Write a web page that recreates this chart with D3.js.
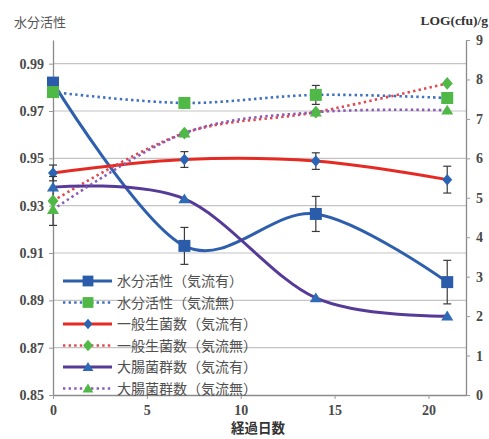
<!DOCTYPE html>
<html>
<head>
<meta charset="utf-8">
<script src="https://cdn.jsdelivr.net/npm/d3@7"></script>
<style>
  html, body { margin: 0; padding: 0; background: #fff; }
  svg { display: block; }
</style>
</head>
<body>
<svg id="chart" width="489" height="439"></svg>
<script>
// Storage days
const days = [0, 7, 14, 21];

// Water activity (left axis)
const awWithFlow    = [0.982, 0.913, 0.9265, 0.8977];
const awWithFlowErr = [0.000, 0.0078, 0.0074, 0.0092];
const awNoFlow      = [0.978, 0.9734, 0.9768, 0.9755];
const awNoFlowErr   = [0.000, 0.000, 0.004, 0.000];

// Total viable count, log(cfu)/g (right axis)
const tvcWithFlow    = [5.63, 5.97, 5.93, 5.46];
const tvcWithFlowErr = [0.20, 0.20, 0.21, 0.34];
const tvcNoFlow      = [4.92, 6.64, 7.17, 7.90];
const tvcNoFlowErr   = [0.62, 0.00, 0.00, 0.00];

// Coliform count, log(cfu)/g (right axis)
const colWithFlow = [5.27, 4.97, 2.46, 2.00];
const colNoFlow   = [4.70, 6.64, 7.17, 7.22];

const leftTicks   = [0.85, 0.87, 0.89, 0.91, 0.93, 0.95, 0.97, 0.99];
const rightTicks  = [0, 1, 2, 3, 4, 5, 6, 7, 8, 9];
const bottomTicks = [0, 5, 10, 15, 20];

const seriesNames = [
  "水分活性（気流有）", "水分活性（気流無）",
  "一般生菌数（気流有）", "一般生菌数（気流無）",
  "大腸菌群数（気流有）", "大腸菌群数（気流無）"
];

const svg = d3.select("#chart");

const x  = d3.scaleLinear().domain([0, 22]).range([53, 466]);
const yL = d3.scaleLinear().domain([0.85, 1.00]).range([395, 40]);
const yR = d3.scaleLinear().domain([0, 9]).range([395, 40]);

// Marker shapes
const square = { draw(ctx, s) { const h = s / 2; ctx.rect(-h, -h, s, s); } };
const diamond = { draw(ctx, s) { const h = s / 2; ctx.moveTo(0, -h * 1.15); ctx.lineTo(h, 0); ctx.lineTo(0, h * 1.15); ctx.lineTo(-h, 0); ctx.closePath(); } };
const triangle = { draw(ctx, s) { const h = s / 2; ctx.moveTo(0, -h); ctx.lineTo(h * 1.1, h * 0.8); ctx.lineTo(-h * 1.1, h * 0.8); ctx.closePath(); } };

const BLUE = "#2D5FAD", GREEN = "#4FB847", RED = "#E52A23", PURPLE = "#563A98";

const series = [
  { vals: awWithFlow,  err: awWithFlowErr,  y: yL, line: BLUE,      dash: null,  w: 3,   sym: square,   size: 12, fill: "#2A5CAA" },
  { vals: awNoFlow,    err: awNoFlowErr,    y: yL, line: "#3E70C2", dash: "2.4 3.2", w: 2.6, sym: square,   size: 12, fill: GREEN },
  { vals: tvcWithFlow, err: tvcWithFlowErr, y: yR, line: RED,       dash: null,  w: 3,   sym: diamond,  size: 10, fill: "#2A64B2" },
  { vals: tvcNoFlow,   err: tvcNoFlowErr,   y: yR, line: "#E2474F", dash: "2.4 3.2", w: 2.6, sym: diamond,  size: 11, fill: GREEN },
  { vals: colWithFlow, err: null,           y: yR, line: PURPLE,    dash: null,  w: 3,   sym: triangle, size: 11, fill: "#2E6AB5" },
  { vals: colNoFlow,   err: null,           y: yR, line: "#8A5CB8", dash: "2.4 3.2", w: 2.6, sym: triangle, size: 11, fill: GREEN }
];

// Gridlines on the water-activity ticks
svg.append("g").selectAll("line")
  .data(leftTicks.slice(1))
  .join("line")
  .attr("x1", x(0)).attr("x2", x(22))
  .attr("y1", d => yL(d)).attr("y2", d => yL(d))
  .attr("stroke", "#C4C4C4").attr("stroke-width", 1.2);

// Axes
const tickFont = "'Liberation Serif', 'DejaVu Serif', serif";
function styleAxis(g) {
  g.selectAll("path.domain").attr("stroke", "#8A8A8A").attr("stroke-width", 1.3);
  g.selectAll(".tick line").attr("stroke", "#9A9A9A");
  g.selectAll(".tick text").attr("fill", "#4A4A4A")
    .style("font-family", tickFont).style("font-size", "14px").style("font-weight", "bold");
}

svg.append("g").attr("transform", `translate(${x(0)},0)`)
  .call(d3.axisLeft(yL).tickValues(leftTicks).tickFormat(d3.format(".2f")).tickSize(4).tickSizeOuter(0).tickPadding(5))
  .call(styleAxis);

svg.append("g").attr("transform", `translate(${x(22)},0)`)
  .call(d3.axisRight(yR).tickValues(rightTicks).tickFormat(d3.format("d")).tickSize(4).tickSizeOuter(0).tickPadding(6))
  .call(styleAxis);

svg.append("g").attr("transform", `translate(0,${yL(0.85)})`)
  .call(d3.axisBottom(x).tickValues(bottomTicks).tickFormat(d3.format("d")).tickSize(4).tickSizeOuter(0).tickPadding(6))
  .call(styleAxis);

// Series: smoothed lines, error bars, markers
const plot = svg.append("g");
series.forEach(s => {
  const pts = days.map((d, i) => [x(d), s.y(s.vals[i])]);
  const line = d3.line().curve(d3.curveCardinal.tension(0));
  plot.append("path")
    .attr("d", line(pts))
    .attr("fill", "none")
    .attr("stroke", s.line)
    .attr("stroke-width", s.w)
    .attr("stroke-linecap", s.dash ? "butt" : "round")
    .attr("stroke-dasharray", s.dash);

  if (s.err) {
    const eb = plot.append("g").attr("stroke", "#3A3A3A").attr("stroke-width", 1.2);
    days.forEach((d, i) => {
      const e = s.err[i];
      if (!e) return;
      const cx = x(d), y1 = s.y(s.vals[i] + e), y2 = s.y(s.vals[i] - e);
      eb.append("line").attr("x1", cx).attr("x2", cx).attr("y1", y1).attr("y2", y2);
      eb.append("line").attr("x1", cx - 4).attr("x2", cx + 4).attr("y1", y1).attr("y2", y1);
      eb.append("line").attr("x1", cx - 4).attr("x2", cx + 4).attr("y1", y2).attr("y2", y2);
    });
  }

  plot.append("g").selectAll("path")
    .data(days.map((d, i) => ({ d, v: s.vals[i] })))
    .join("path")
    .attr("transform", p => `translate(${x(p.d)},${s.y(p.v)})`)
    .attr("d", d3.symbol().type(s.sym).size(s.size))
    .attr("fill", s.fill);
});

// Legend
const cjk = "'Noto Sans CJK JP', 'Noto Sans', sans-serif";
const legend = svg.append("g");
const rowY = d3.scaleLinear().domain([0, 5]).range([281, 388.5]);
series.forEach((s, i) => {
  const yy = rowY(i);
  legend.append("line")
    .attr("x1", 63).attr("x2", 112).attr("y1", yy).attr("y2", yy)
    .attr("stroke", s.line).attr("stroke-width", s.w)
    .attr("stroke-dasharray", s.dash);
  legend.append("path")
    .attr("transform", `translate(88,${yy})`)
    .attr("d", d3.symbol().type(s.sym).size(s.size * 0.9))
    .attr("fill", s.fill);
  legend.append("text")
    .attr("x", 117).attr("y", yy).attr("dy", "0.36em")
    .attr("fill", "#505050")
    .style("font-family", cjk).style("font-size", "14px")
    .text(seriesNames[i]);
});

// Axis titles
svg.append("text").attr("x", 14).attr("y", 27)
  .attr("fill", "#555").style("font-family", cjk).style("font-size", "13px")
  .text("水分活性");
svg.append("text").attr("x", 488).attr("y", 25).attr("text-anchor", "end")
  .attr("fill", "#333").style("font-family", tickFont).style("font-size", "13.5px").style("font-weight", "bold")
  .text("LOG(cfu)/g");
svg.append("text").attr("x", 258).attr("y", 433).attr("text-anchor", "middle")
  .attr("fill", "#333").style("font-family", cjk).style("font-size", "13.5px").style("font-weight", "bold")
  .text("経過日数");
</script>
</body>
</html>
